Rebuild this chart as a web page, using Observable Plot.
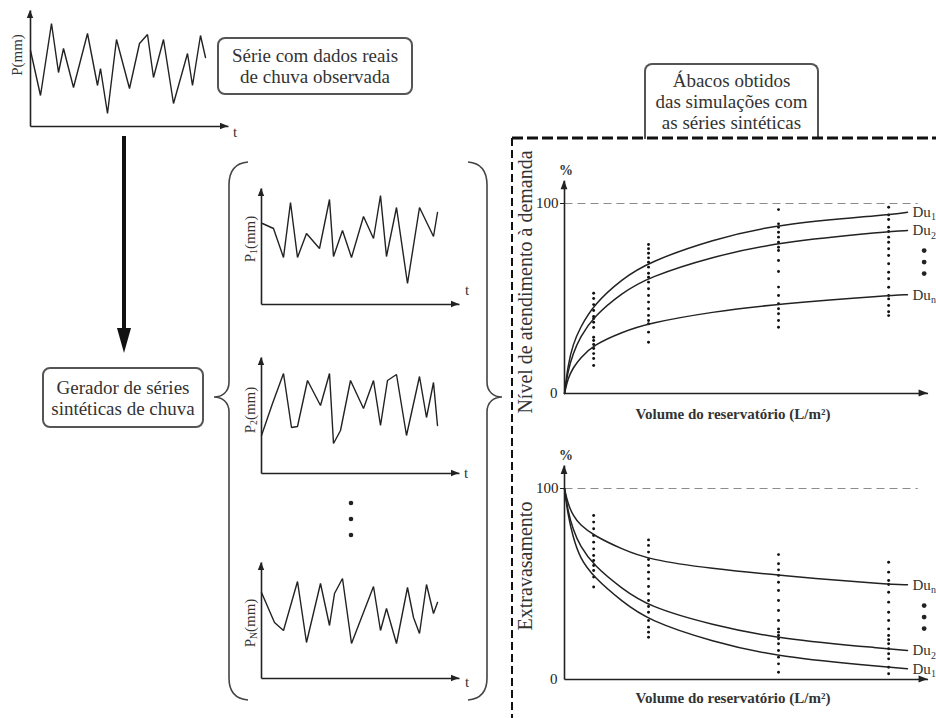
<!DOCTYPE html>
<html><head><meta charset="utf-8">
<script src="https://cdn.jsdelivr.net/npm/d3@7"></script>
<script src="https://cdn.jsdelivr.net/npm/@observablehq/plot@0.6"></script>
<style>
body{margin:0;background:#fff;}
#root{position:relative;width:936px;height:718px;overflow:hidden;font-family:"Liberation Serif","Times New Roman",serif;color:#333;background:#fff;}
.box{position:absolute;border:2px solid #555;border-radius:8px;box-sizing:border-box;text-align:center;font-size:19px;line-height:21px;display:flex;flex-direction:column;justify-content:center;background:#fff;color:#333;}
.lbl{position:absolute;white-space:nowrap;transform:translate(-50%,-50%);}
.rot{position:absolute;white-space:nowrap;transform:translate(-50%,-50%) rotate(-90deg);}
sub{font-size:65%;vertical-align:-0.25em;line-height:0;}
</style></head><body><div id="root"></div>
<script>
// ---------- DATA ----------
// Observed rainfall series (top-left)
const obsT = [0,10,21,28,33,43,57,67,70,77,86,99,109,117,123,133,143,157,162,170,175];
const obsP = [76,31,103,54,78,39,93,41,58,13,87,38,83,92,49,87,23,73,41,91,69];
// Synthetic series 1
const s1T = [1,12,22,29,36,45,58,68,72,81,90,102,112,119,125,135,146,158,172,176];
const s1P = [81,76,47,102,47,71,56,105,48,74,47,88,66,109,48,97,21,97,68,92];
// Synthetic series 2
const s2T = [0,11,22,30,36,46,59,68,72,79,89,102,112,119,126,135,145,158,165,172,176];
const s2P = [38,70,100,46,47,93,68,100,30,43,93,65,93,48,93,99,38,97,56,91,48];
// Synthetic series N
const sNT = [0,13,22,36,45,59,68,73,81,90,112,119,125,135,146,152,158,165,172,176];
const sNP = [86,56,48,97,36,95,53,85,100,35,92,48,70,35,91,61,45,94,65,76];

// Abacus curves: reservoir volume vs %
const volCurve = [0, 1, 2.5, 4.5, 8.5, 16.8, 24.5, 43, 62.4, 94.5, 100];
const curveNames = ["1", "2", "n"];
const atendDu1 = [0, 15, 26, 34.5, 46.8, 60.4, 69.1, 81, 89.3, 94, 95.4];
const atendDu2 = [0, 12, 21, 29.5, 40.5, 53, 61.2, 72, 79.6, 85.3, 85.8];
const atendDun = [0, 8, 13.5, 18.5, 25.6, 32.3, 37, 43, 47.2, 51.6, 52];
const extravDu1 = [100, 86, 74.5, 63.5, 53.6, 40.8, 30.9, 19.8, 11.7, 6.4, 5.6];
const extravDu2 = [100, 88, 78.5, 70, 59.7, 47.5, 38.2, 28.5, 21.3, 16.1, 15.2];
const extravDun = [100, 92, 85.8, 81, 75.4, 68.2, 62.8, 58, 54.5, 49.7, 49.6];

// Simulation scatter columns
const volCols = [8.5, 24.5, 62.4, 94.5];
const atendCol1 = [52.8,50,46.8,43.7,40.5,39.5,37.5,34.7,29.6,27.9,25.8,23.7,21,18.4,14.7];
const atendCol2 = [78.4,76.2,73.8,71.4,69.1,66.5,63.3,61.2,58.6,55.1,51.6,48.1,44.6,41.1,38.4,36.7,32.3,27];
const atendCol3 = [96.8,89.3,87.5,84.9,82.3,79.6,77,75.3,70,64.2,56,51.6,47.2,44.6,42,38.4,34.9];
const atendCol4 = [98,94,91.6,87.5,85.3,82.3,79.6,76.2,72.6,68.3,63.8,60.4,55.9,51.6,49.8,46.3,43,41];
const extravCol1 = [85.9,82.4,78.9,75.4,71.9,68.4,64.9,62.3,59.7,57.1,53.6,48.4];
const extravCol2 = [73.1,70.2,66.7,62.8,59.7,56.2,52.7,48.7,44.9,41.4,38.2,35.2,30.9,27.4,24.8,22.1];
const extravCol3 = [65.4,60.6,57.4,54.5,50.9,46.6,41.4,36.1,30.9,26.5,24.8,23,21.3,18.7,15.2,11.7,8.2,3.8];
const extravCol4 = [61.4,56.2,51.8,49.7,45.7,40.5,35.2,30.9,26.5,23,20.8,18.7,16.1,13.5,10.8,6.4,3];

// ---------- DRAWING ----------
const INK = "#222";
const FONT = '"Liberation Serif","Times New Roman",serif';
const root = document.getElementById("root");

function put(el, left, top) {
  el.style.position = "absolute";
  el.style.left = left + "px";
  el.style.top = top + "px";
  root.appendChild(el);
  return el;
}
function label(html, cx, cy, cls, size, extra) {
  const d = document.createElement("div");
  d.className = cls; d.innerHTML = html;
  d.style.left = cx + "px"; d.style.top = cy + "px";
  d.style.fontSize = size + "px";
  if (extra) Object.assign(d.style, extra);
  root.appendChild(d);
  return d;
}
function head(svg, x, y, dir, len, half) {
  const p = dir === "right"
    ? [[x, y], [x - len, y - half], [x - len, y + half]]
    : [[x, y], [x - half, y + len], [x + half, y + len]];
  d3.select(svg).append("path").attr("d", "M" + p.join("L") + "Z").attr("fill", INK);
}

// mini time-series chart; origin at (ox, oy) in page px
function miniChart(t, p, ox, oy, pLabel, pPos, tPos) {
  const rows = t.map((d, i) => ({t: d, p: p[i]}));
  const xTip = 198, yTip = 116;
  const svg = Plot.plot({
    width: 240, height: 150, marginLeft: 20, marginRight: 20, marginTop: 18, marginBottom: 16,
    x: {domain: [0, 200], axis: null},
    y: {domain: [0, 116], axis: null},
    style: {background: "transparent", overflow: "visible", color: INK},
    marks: [
      Plot.link([{a: 0, b: xTip}], {x1: "a", x2: "b", y1: () => 0, y2: () => 0, stroke: INK, strokeWidth: 1.6}),
      Plot.link([{a: 0, b: yTip}], {y1: "a", y2: "b", x1: () => 0, x2: () => 0, stroke: INK, strokeWidth: 1.6}),
      Plot.line(rows, {x: "t", y: "p", stroke: INK, strokeWidth: 1.4, strokeLinejoin: "miter"})
    ]
  });
  const sx = svg.scale("x"), sy = svg.scale("y");
  head(svg, sx.apply(xTip), sy.apply(0), "right", 8, 3.2);
  head(svg, sx.apply(0), sy.apply(yTip), "up", 8, 3.2);
  put(svg, ox - 20, oy - 134);
  label(pLabel, ox + pPos[0], oy + pPos[1], "rot", 15);
  label("t", ox + tPos[0], oy + tPos[1], "lbl", 15);
}

miniChart(obsT, obsP, 30, 126, "P(mm)", [-13, -71], [205, 6]);
miniChart(s1T, s1P, 261, 304, "P<sub>1</sub>(mm)", [-11, -65], [206, -14]);
miniChart(s2T, s2P, 261, 473, "P<sub>2</sub>(mm)", [-11, -63], [205, 0]);
miniChart(sNT, sNP, 261, 678, "P<sub>N</sub>(mm)", [-11, -55], [206, 4]);

// abacus chart
function abacus(top, height, mTop, mBottom, curves, cols, yTitle, yTitleCy, xTitleCy) {
  const rows = [];
  curves.forEach((ys, k) => ys.forEach((y, i) => rows.push({v: volCurve[i], y, s: curveNames[k]})));
  const pts = [];
  cols.forEach((ys, k) => ys.forEach(y => pts.push({v: volCols[k], y})));
  const last = volCurve.length - 1;
  const ends = curves.map((ys, k) => ({v: volCurve[last], y: ys[last], s: curveNames[k]}));
  const xTip = 106, yTip = 112;
  const svg = Plot.plot({
    width: 436, height, marginLeft: 64, marginRight: 29, marginTop: mTop, marginBottom: mBottom,
    x: {domain: [0, 100], axis: null},
    y: {domain: [0, 100]},
    style: {background: "transparent", overflow: "visible", color: INK, fontFamily: FONT, fontSize: "15px"},
    marks: [
      Plot.link([{a: 0, b: 103}], {x1: "a", x2: "b", y1: () => 100, y2: () => 100, stroke: "#8c8c8c", strokeWidth: 1.2, strokeDasharray: "8,5"}),
      Plot.axisY({ticks: [100], tickSize: 4, tickPadding: 2, fontSize: 15, label: null, stroke: INK}),
      Plot.axisY({ticks: [0], tickSize: 0, tickPadding: 7, fontSize: 15, label: null}),
      Plot.link([{a: 0, b: xTip}], {x1: "a", x2: "b", y1: () => 0, y2: () => 0, stroke: INK, strokeWidth: 1.6}),
      Plot.link([{a: 0, b: yTip}], {y1: "a", y2: "b", x1: () => 0, x2: () => 0, stroke: INK, strokeWidth: 1.6}),
      Plot.dot(pts, {x: "v", y: "y", r: 1.45, fill: "#111", stroke: null}),
      Plot.line(rows, {x: "v", y: "y", z: "s", curve: "basis", stroke: INK, strokeWidth: 1.5}),
      Plot.text(ends, {x: "v", y: "y", text: () => "Du", dx: 5, textAnchor: "start", fontSize: 15, fill: "#333"}),
      Plot.text(ends, {x: "v", y: "y", text: "s", dx: 23.5, dy: 5, textAnchor: "start", fontSize: 10, fill: "#333"})
    ]
  });
  const sx = svg.scale("x"), sy = svg.scale("y");
  head(svg, sx.apply(xTip), sy.apply(0), "right", 9, 3.4);
  head(svg, sx.apply(0), sy.apply(yTip), "up", 9, 3.4);
  d3.select(svg).append("text").attr("x", sx.apply(0) + 2).attr("y", sy.apply(yTip) - 5)
    .attr("text-anchor", "middle").attr("font-size", 14).attr("font-weight", "bold").attr("fill", "#333").text("%");
  // ellipsis between 2nd and nth label
  const yA = sy.apply(curves[1][last]), yB = sy.apply(curves[2][last]);
  const mid = (yA + yB) / 2;
  [-11.5, 0, 11.5].forEach(o => d3.select(svg).append("circle").attr("cx", sx.apply(105)).attr("cy", mid + o).attr("r", 2.4).attr("fill", INK));
  put(svg, 500, top);
  label(yTitle, 525, yTitleCy, "rot", 20);
  label("Volume do reservatório (L/m²)", 733, xTitleCy, "lbl", 15, {fontWeight: "bold"});
}

abacus(160, 280, 43, 47, [atendDu1, atendDu2, atendDun], [atendCol1, atendCol2, atendCol3, atendCol4],
  "Nível de atendimento à demanda", 282, 414);
abacus(440, 278, 48, 39, [extravDu1, extravDu2, extravDun], [extravCol1, extravCol2, extravCol3, extravCol4],
  "Extravasamento", 566, 698);

// text boxes
function box(lines, left, top, w, h, extra) {
  const d = document.createElement("div");
  d.className = "box";
  d.innerHTML = lines.map(s => "<div>" + s + "</div>").join("");
  d.style.left = left + "px"; d.style.top = top + "px";
  d.style.width = w + "px"; d.style.height = h + "px";
  if (extra) Object.assign(d.style, extra);
  root.appendChild(d);
}
box(["Série com dados reais", "de chuva observada"], 217, 37, 196, 58);
box(["Gerador de séries", "sintéticas de chuva"], 42, 367, 162, 61);
box(["Ábacos obtidos", "das simulações com", "as séries sintéticas"], 644, 63, 175, 76,
  {borderBottom: "none", borderBottomLeftRadius: "0", borderBottomRightRadius: "0", paddingBottom: "2px"});

// decorative overlay: braces, big arrow, dashed frame, ellipsis
const ov = d3.select(root).append("svg").attr("width", 936).attr("height", 718)
  .style("position", "absolute").style("left", 0).style("top", 0).style("pointer-events", "none");
ov.append("path").attr("fill", "none").attr("stroke", "#444").attr("stroke-width", 1.6)
  .attr("d", "M248,162 C236,163 229,170 229,185 L229,382 C229,392 222,397 214,397 C222,397 229,402 229,412 L229,678 C229,692 236,699 248,700");
ov.append("path").attr("fill", "none").attr("stroke", "#444").attr("stroke-width", 1.6)
  .attr("d", "M468,162 C480,163 487,170 487,185 L487,382 C487,392 494,397 502,397 C494,397 487,402 487,412 L487,678 C487,692 480,699 468,700");
ov.append("rect").attr("x", 122).attr("y", 136).attr("width", 4).attr("height", 196).attr("fill", "#111");
ov.append("path").attr("d", "M117,328 L131,328 L124,353 Z").attr("fill", "#111");
ov.append("line").attr("x1", 512).attr("y1", 138).attr("x2", 936).attr("y2", 138)
  .attr("stroke", "#111").attr("stroke-width", 3).attr("stroke-dasharray", "11,4");
ov.append("line").attr("x1", 512).attr("y1", 138).attr("x2", 512).attr("y2", 718)
  .attr("stroke", "#111").attr("stroke-width", 2).attr("stroke-dasharray", "8,4");
[503, 519, 535].forEach(y => ov.append("circle").attr("cx", 351).attr("cy", y).attr("r", 2.3).attr("fill", "#222"));
</script></body></html>
